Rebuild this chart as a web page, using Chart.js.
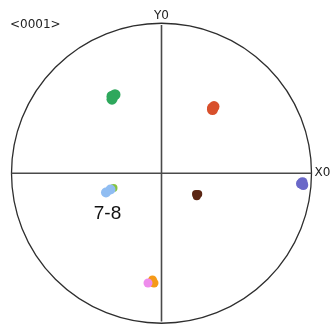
<!DOCTYPE html>
<html>
<head>
<meta charset="utf-8">
<script src="https://cdn.jsdelivr.net/npm/chart.js@4/dist/chart.umd.min.js"></script>
<style>
  html, body { margin: 0; padding: 0; background: #fff; }
  #wrap { position: relative; width: 333px; height: 327px; }
</style>
</head>
<body>
<div id="wrap"><canvas id="pole"></canvas></div>
<script>
// pole figure clusters, unit circle coordinates
const greenPts  = [{x: -0.33, y: 0.52}, {x: -0.31, y: 0.53}, {x: -0.33, y: 0.50}];
const redPts    = [{x: 0.34, y: 0.44}, {x: 0.35, y: 0.45}, {x: 0.34, y: 0.43}];
const bluePts   = [{x: -0.37, y: -0.13}, {x: -0.34, y: -0.11}];
const limePts   = [{x: -0.32, y: -0.10}];
const brownPts  = [{x: 0.23, y: -0.14}, {x: 0.245, y: -0.14}, {x: 0.235, y: -0.155}];
const purplePts = [{x: 0.93, y: -0.07}, {x: 0.94, y: -0.06}, {x: 0.945, y: -0.08}];
const pinkPts   = [{x: -0.09, y: -0.74}];
const orangePts = [{x: -0.06, y: -0.72}, {x: -0.05, y: -0.74}];

const axisLabels = ['Y0', 'X0'];
const title = '<0001>';
const groupLabel = { text: '7-8', x: -0.36, y: -0.27 };

function blob(data, color, r) {
  return { data: data, backgroundColor: color, borderWidth: 0, pointRadius: r, pointHoverRadius: r };
}

const stereoFrame = {
  id: 'stereoFrame',
  beforeDatasetsDraw(chart) {
    const { ctx, scales: { x, y } } = chart;
    const cx = x.getPixelForValue(0), cy = y.getPixelForValue(0);
    const r = x.getPixelForValue(1) - cx;
    ctx.save();
    ctx.strokeStyle = '#2e2e2e';
    ctx.lineWidth = 1.3;
    ctx.beginPath();
    ctx.arc(cx, cy, r, 0, Math.PI * 2);
    ctx.stroke();
    ctx.strokeStyle = '#4a4a4a';
    ctx.lineWidth = 1.6;
    ctx.beginPath();
    ctx.moveTo(cx, y.getPixelForValue(1));
    ctx.lineTo(cx, y.getPixelForValue(-1));
    ctx.moveTo(x.getPixelForValue(-1), cy);
    ctx.lineTo(x.getPixelForValue(1), cy);
    ctx.stroke();
    ctx.restore();
  },
  afterDatasetsDraw(chart) {
    const { ctx, scales: { x, y } } = chart;
    ctx.save();
    ctx.fillStyle = '#222';
    ctx.font = '12px "DejaVu Sans"';
    ctx.textBaseline = 'middle';
    ctx.textAlign = 'center';
    ctx.fillText(axisLabels[0], x.getPixelForValue(0), y.getPixelForValue(1) - 9);
    ctx.textAlign = 'left';
    ctx.fillText(axisLabels[1], x.getPixelForValue(1) + 3, y.getPixelForValue(0));
    ctx.fillText(title, 10, 25);
    ctx.fillStyle = '#111';
    ctx.font = '19px "Liberation Sans"';
    ctx.textAlign = 'center';
    ctx.fillText(groupLabel.text, x.getPixelForValue(groupLabel.x), y.getPixelForValue(groupLabel.y));
    ctx.restore();
  }
};

new Chart(document.getElementById('pole'), {
  type: 'scatter',
  data: {
    datasets: [
      blob(greenPts, '#2ea85c', 5.5),
      blob(redPts, '#d8502c', 5.5),
      blob(bluePts, '#90bdf2', 5),
      blob(limePts, '#86c440', 4),
      blob(brownPts, '#5b2614', 4),
      blob(purplePts, '#6a68c8', 5),
      blob(pinkPts, '#ee8cec', 4.5),
      blob(orangePts, '#f59a18', 4.5)
    ]
  },
  options: {
    responsive: true,
    maintainAspectRatio: false,
    animation: false,
    layout: { padding: { left: 11.5, right: 21.5, top: 25, bottom: 2 } },
    plugins: { legend: { display: false }, tooltip: { enabled: false } },
    scales: {
      x: { type: 'linear', min: -1, max: 1, display: false },
      y: { type: 'linear', min: -1, max: 1, display: false }
    }
  },
  plugins: [stereoFrame]
});
</script>
</body>
</html>
